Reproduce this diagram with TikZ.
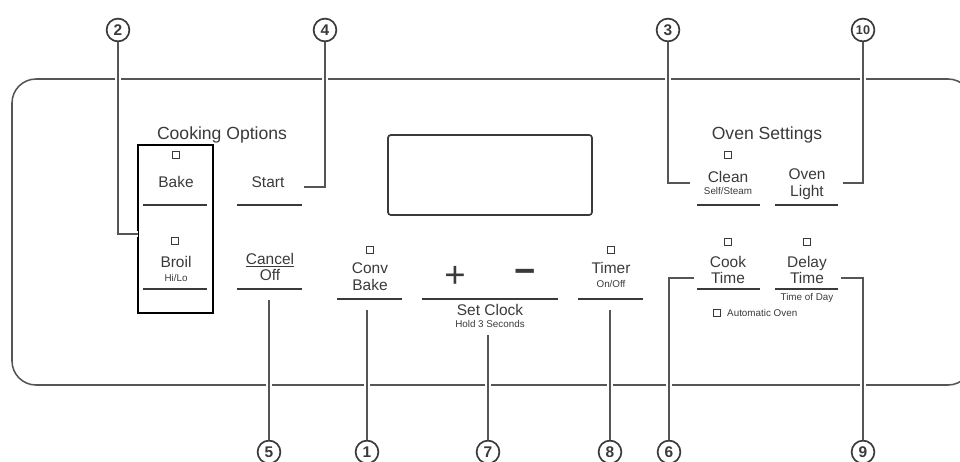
\documentclass[tikz,border=0pt]{standalone}
\usepackage{fontspec}
\setmainfont{Liberation Sans}
\usepackage{tikz}
\usetikzlibrary{positioning,calc}
\definecolor{ink}{HTML}{3A3A3A}
\definecolor{wire}{HTML}{555555}

\begin{document}
\begin{tikzpicture}[x=0.025cm, y=-0.025cm,
    every node/.style={text=ink, inner sep=1pt},
    head/.style={font=\fontsize{12.5}{14}\selectfont},
    btn/.style={align=center, font=\fontsize{11}{12}\selectfont},
    small/.style={font=\fontsize{7}{7.5}\selectfont},
    led/.style={draw=ink, line width=1pt, minimum size=0.18cm, inner sep=0pt},
    num/.style={circle, draw=ink, line width=1.2pt, fill=white, minimum size=0.57cm, inner sep=0pt, font=\bfseries\fontsize{11}{11}\selectfont},
    callout/.style={draw=wire, line width=1.1pt, preaction={draw=white, line width=4pt}},
    bar/.style={draw=ink, line width=1.3pt}]
        \useasboundingbox (0,0) rectangle (960,461);
        \clip (0,0) rectangle (960,461);
        % Panel and display
        \draw[wire, line width=1.1pt, rounded corners=0.6cm] (12,79) rectangle (972,385);
        \draw[ink, line width=1.2pt, rounded corners=2pt] (388,135) rectangle (592,215);
        \draw[black, line width=1.8pt] (138,145) rectangle (213,313);
        % Headings
        \node[head] (cookopts) at (222,135) {Cooking Options};
        \node[head] (ovenset) at (767,135) {Oven Settings};
        % Left buttons
        \node[led] (bakeled) at (176,155) {};
        \node[btn] (bake) at (176,182) {Bake};
        \node[led] (broilled) at (175,241) {};
        \node[btn] (broil) at (176,269) {Broil\\[-2pt]{\fontsize{7}{7.5}\selectfont Hi/Lo}};
        \node[btn] (start) at (268,182) {Start};
        \node[btn] (cancel) at (270,267) {\underline{Cancel}\\Off};
        % Middle buttons
        \node[led] (convled) at (370,250) {};
        \node[btn] (conv) at (370,277) {Conv\\Bake};
        \node[font=\fontsize{26}{26}\selectfont] (plus) at (455,277) {+};
        \node[font=\bfseries\fontsize{26}{26}\selectfont] (minus) at (525,276) {−};
        \node[btn] (setclock) at (490,310) {Set Clock};
        \node[small] (hold) at (490,324) {Hold 3 Seconds};
        \node[led] (timerled) at (611,250) {};
        \node[btn] (timer) at (611,275) {Timer\\[-2pt]{\fontsize{7}{7.5}\selectfont On/Off}};
        % Right buttons
        \node[led] (cleanled) at (728,155) {};
        \node[btn] (clean) at (728,183) {Clean\\[-3pt]{\fontsize{7}{7.5}\selectfont Self/Steam}};
        \node[btn] (light) at (807,184) {Oven\\Light};
        \node[led] (cookled) at (728,242) {};
        \node[btn] (cook) at (728,270) {Cook\\Time};
        \node[led] (delayled) at (807,242) {};
        \node[btn] (delay) at (807,270) {Delay\\Time};
        \node[small] (tod) at (807,298) {Time of Day};
        \node[led] (autoled) at (717,313) {};
        \node[small, right=3pt of autoled] (auto) {Automatic Oven};
        % Button bars
        \foreach \xa/\xb/\yy in {143/207/205, 143/207/289, 237/302/205, 237/302/289,
                                 337/402/299, 422/558/299, 578/643/299,
                                 697/760/205, 775/838/205, 697/760/289, 775/838/289}
            \draw[bar] (\xa,\yy) -- (\xb,\yy);
        % Callout numbers
        \node[num] (c2) at (118,30) {2};
        \node[num] (c4) at (325,30) {4};
        \node[num] (c3) at (668,30) {3};
        \node[num, font=\bfseries\fontsize{9}{9}\selectfont] (c10) at (863,30) {10};
        \node[num] (c5) at (269,452) {5};
        \node[num] (c1) at (367,452) {1};
        \node[num] (c7) at (488,452) {7};
        \node[num] (c8) at (610,452) {8};
        \node[num] (c6) at (669,452) {6};
        \node[num] (c9) at (863,452) {9};
        % Callout ends
        \coordinate (e2) at (138,234);
        \coordinate (e4) at (304,187);
        \coordinate (e3) at (690,183);
        \coordinate (e10) at (843,183);
        \coordinate (e5) at (269,300);
        \coordinate (e1) at (367,310);
        \coordinate (e7) at (488,335);
        \coordinate (e8) at (610,310);
        \coordinate (e6) at (694,278);
        \coordinate (e9) at (841,278);
        % Callouts
        \draw[callout] (c2) |- (e2);
        \draw[callout] (c4) |- (e4);
        \draw[callout] (c3) |- (e3);
        \draw[callout] (c10) |- (e10);
        \draw[callout] (c5) -- (e5);
        \draw[callout] (c1) -- (e1);
        \draw[callout] (c7) -- (e7);
        \draw[callout] (c8) -- (e8);
        \draw[callout] (c6) |- (e6);
        \draw[callout] (c9) |- (e9);
    \end{tikzpicture}
\end{document}
